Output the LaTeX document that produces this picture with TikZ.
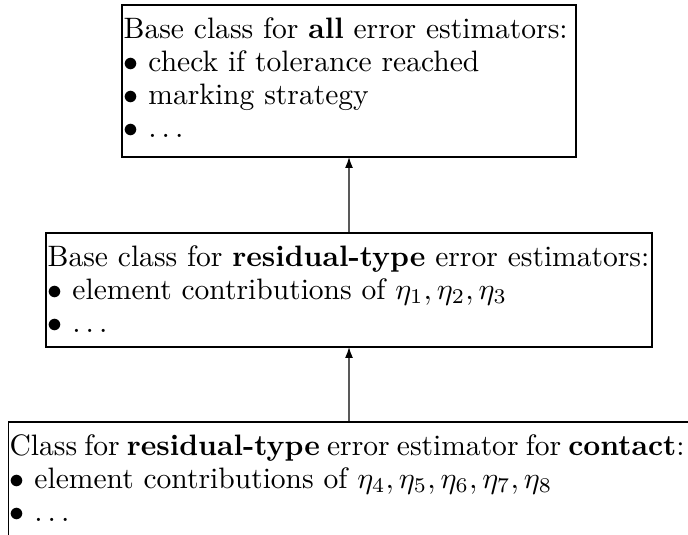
\documentclass[tikz,border=0pt]{standalone}
\usetikzlibrary{arrows.meta}
\begin{document}
\begin{tikzpicture}[x=0.33333pt,y=-0.33333pt,
  box/.style={draw, line width=0.4pt, inner sep=0pt, outer sep=0pt, anchor=north west},
  txt/.style={inner sep=0pt, anchor=north west, align=left, font=\fontsize{9.85}{11}\selectfont},
  conn/.style={line width=0.4pt, -{Latex[length=3.6pt,width=2.6pt]}}]
\useasboundingbox (0,0) rectangle (688,534);
\node[box, minimum width=151.33pt, minimum height=50.67pt] (topbox) at (122,5) {};
\node[box, minimum width=202pt, minimum height=38pt] (midbox) at (46,233) {};
\node[box, minimum width=227pt, minimum height=38pt] (botbox) at (8.5,422) {};
\node[txt] (toptxt) at (123,17) {Base class for \textbf{all} error estimators:\\
$\bullet$ check if tolerance reached\\
$\bullet$ marking strategy\\
$\bullet$ $\ldots$};
\node[txt] (midtxt) at (47,245) {Base class for \textbf{residual-type} error estimators:\\
$\bullet$ element contributions of $\eta_1, \eta_2, \eta_3$\\
$\bullet$ $\ldots$};
\node[txt] (bottxt) at (9,434) {\hbox to 225pt{Class for \textbf{residual-type} error estimator for \textbf{contact}:}\\
$\bullet$ element contributions of $\eta_4, \eta_5, \eta_6, \eta_7, \eta_8$\\
$\bullet$ $\ldots$};
\draw[conn] (midbox.north) -- (topbox.south);
\draw[conn] (botbox.north) -- (midbox.south);
\end{tikzpicture}
\end{document}
